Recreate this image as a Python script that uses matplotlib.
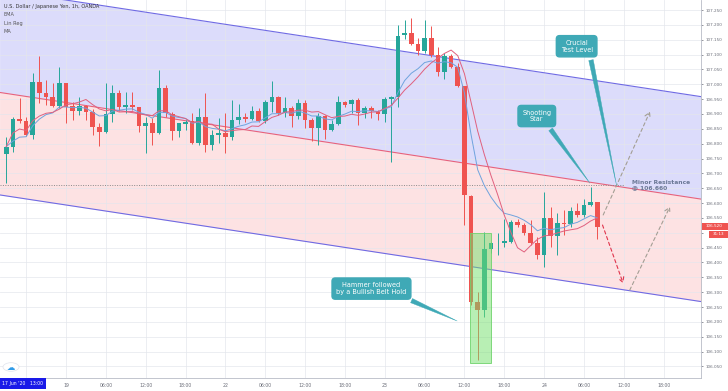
import numpy as np
import pandas as pd
import matplotlib
matplotlib.use("Agg")
import matplotlib.pyplot as plt
from matplotlib.patches import Rectangle, Circle

# hourly candles, bar 0 = 19 Jun 00:00 (weekend closed up like on the chart)
bar_start = -9
opens = [106.765, 106.788, 106.884, 106.877, 106.829, 107.009, 106.972, 106.958, 106.927,
         107.003, 106.927, 106.911, 106.927, 106.908, 106.855, 106.840, 106.900, 106.970,
         106.924, 106.929, 106.922, 106.858, 106.869, 106.835, 106.987, 106.900, 106.844,
         106.866, 106.875, 106.803, 106.889, 106.795, 106.829, 106.837, 106.821, 106.880,
         106.891, 106.884, 106.909, 106.877, 106.940, 106.956, 106.902, 106.920, 106.893,
         106.936, 106.880, 106.853, 106.892, 106.846, 106.866, 106.939, 106.934, 106.947,
         106.904, 106.921, 106.908, 106.899, 106.950, 106.958, 107.165, 107.172, 107.136,
         107.113, 107.156, 107.100, 107.042, 107.095, 107.059, 106.994, 106.624, 106.266,
         106.240, 106.445, 106.465, 106.466, 106.470, 106.537, 106.526, 106.498, 106.467,
         106.425, 106.549, 106.490, 106.534, 106.529, 106.574, 106.560, 106.593, 106.603]
highs = [106.823, 106.890, 106.954, 106.890, 107.038, 107.095, 107.014, 107.004, 107.059,
         107.004, 106.941, 106.958, 106.930, 106.917, 106.870, 107.004, 106.998, 106.981,
         106.975, 106.975, 106.924, 106.891, 106.886, 107.048, 106.998, 106.908, 106.871,
         106.880, 106.904, 106.920, 106.972, 106.846, 106.886, 106.904, 106.947, 106.934,
         106.903, 106.927, 106.920, 106.947, 107.011, 106.960, 106.956, 106.927, 106.949,
         106.947, 106.885, 106.902, 106.897, 106.880, 106.960, 106.945, 106.950, 106.953,
         106.927, 106.927, 106.913, 106.956, 106.961, 107.200, 107.216, 107.222, 107.155,
         107.216, 107.196, 107.126, 107.104, 107.102, 107.073, 106.994, 106.627, 106.302,
         106.504, 106.470, 106.499, 106.546, 106.543, 106.545, 106.533, 106.543, 106.487,
         106.638, 106.588, 106.566, 106.577, 106.588, 106.599, 106.613, 106.654, 106.605]
lows = [106.667, 106.772, 106.870, 106.826, 106.816, 106.938, 106.930, 106.923, 106.920,
        106.870, 106.880, 106.897, 106.880, 106.829, 106.792, 106.836, 106.874, 106.911,
        106.903, 106.913, 106.840, 106.768, 106.795, 106.833, 106.891, 106.812, 106.821,
        106.846, 106.799, 106.795, 106.773, 106.779, 106.802, 106.770, 106.812, 106.866,
        106.874, 106.880, 106.874, 106.871, 106.908, 106.897, 106.889, 106.855, 106.882,
        106.852, 106.810, 106.795, 106.815, 106.844, 106.863, 106.922, 106.902, 106.863,
        106.885, 106.885, 106.880, 106.874, 106.739, 106.924, 107.151, 107.132, 107.099,
        107.104, 107.093, 107.028, 107.017, 107.054, 106.990, 106.526, 106.257, 106.072,
        106.217, 106.431, 106.425, 106.453, 106.467, 106.520, 106.492, 106.459, 106.411,
        106.386, 106.453, 106.425, 106.492, 106.520, 106.554, 106.554, 106.590, 106.478]
closes = [106.790, 106.882, 106.876, 106.829, 107.009, 106.972, 106.958, 106.927, 107.003,
          106.924, 106.911, 106.927, 106.908, 106.855, 106.840, 106.900, 106.970, 106.924,
          106.930, 106.922, 106.859, 106.869, 106.835, 106.987, 106.902, 106.844, 106.869,
          106.873, 106.803, 106.889, 106.795, 106.829, 106.837, 106.821, 106.880, 106.891,
          106.884, 106.909, 106.877, 106.940, 106.956, 106.902, 106.920, 106.893, 106.936,
          106.880, 106.853, 106.892, 106.846, 106.866, 106.939, 106.931, 106.947, 106.904,
          106.921, 106.910, 106.899, 106.950, 106.958, 107.163, 107.172, 107.136, 107.113,
          107.156, 107.100, 107.042, 107.095, 107.059, 106.994, 106.627, 106.268, 106.240,
          106.445, 106.465, 106.467, 106.471, 106.537, 106.526, 106.498, 106.467, 106.425,
          106.549, 106.490, 106.532, 106.529, 106.574, 106.560, 106.593, 106.603, 106.520]

tick_bars = list(range(0, 91, 6))
tick_labels = ['19', '06:00', '12:00', '18:00', '22', '06:00', '12:00', '18:00',
               '23', '06:00', '12:00', '18:00', '24', '06:00', '12:00', '18:00']
price_ticks = np.round(np.arange(106.05, 107.2501, 0.05), 3)

# linear regression channel: mid line at both ends + half width
lr_bars = [-10, 96]
lr_mid = [106.9725, 106.6121]
lr_dev = 0.345

resistance = 106.660
last_price = 106.520
hl_box = [60.8, 64.0, 106.060, 106.500]   # bar from, bar to, low, high

paths_grey = [[(80.9, 106.560), (87.95, 106.908)], [(84.9, 106.307), (90.96, 106.588)]]
path_red = [(80.8, 106.526), (83.9, 106.330)]

callouts = [
    ("Hammer followed\nby a Bullish Belt Hold", (46.0, 106.312), (58.9, 106.203), (0.85, 0.1)),
    ("Shooting\nStar", (70.9, 106.893), (78.9, 106.667), (0.8, 0.0)),
    ("Crucial\nTest Level", (76.9, 107.128), (82.9, 106.661), (0.9, 0.0)),
]

# ---------------------------------------------------------------
bars = np.arange(bar_start, bar_start + len(opens))
o, h, l, c = map(np.array, (opens, highs, lows, closes))

fig = plt.figure(figsize=(7.28, 3.91), dpi=100)
ax = fig.add_axes([0, 13 / 391, 701 / 728, 378 / 391])
ax.set_xlim(-9.94, 95.63)
ax.set_ylim(106.011, 107.2837)

# channel
xs = np.array(lr_bars, dtype=float)
mid = np.array(lr_mid)
ax.fill_between(xs, mid, mid + lr_dev, color='#dcdcfb', lw=0, zorder=0)
ax.fill_between(xs, mid - lr_dev, mid, color='#fde2e3', lw=0, zorder=0)
ax.plot(xs, mid + lr_dev, color='#6f6ae4', lw=0.8, zorder=2)
ax.plot(xs, mid - lr_dev, color='#6f6ae4', lw=0.8, zorder=2)
ax.plot(xs, mid, color='#e8627c', lw=0.8, zorder=2)

# grid
for t in [-6] + tick_bars:
    ax.axvline(t, color='#e4e6ec', lw=0.6, alpha=0.8, zorder=1)
for p in price_ticks:
    ax.axhline(p, color='#e4e6ec', lw=0.6, alpha=0.8, zorder=1)

# candles
up = c >= o
cols = np.where(up, '#26a69a', '#ef5350')
ax.vlines(bars, l, h, colors=cols, lw=0.7, zorder=3)
body = np.maximum(np.abs(c - o), 0.002)
ax.bar(bars, body, bottom=np.minimum(o, c), width=0.7, color=cols, lw=0, zorder=4)

# EMA / MA
s = pd.Series(closes)
ema = s.ewm(span=9, adjust=False).mean()
ma = s.rolling(9, min_periods=1).mean()
ax.plot(bars, ema, color='#6fa3de', lw=0.7, zorder=5)
ax.plot(bars, ma, color='#e0607e', lw=0.7, zorder=5)

# highlight box
x0, x1, y0, y1 = hl_box
ax.add_patch(Rectangle((x0, y0), x1 - x0, y1 - y0, fc=(0.45, 0.88, 0.42, 0.5),
                       ec='#6fd36c', lw=0.6, zorder=6))

# resistance
ax.plot([-10, 84], [resistance, resistance], color='#8a8a8a', lw=0.7,
        ls=(0, (1, 1.5)), zorder=2)
ax.text(85.2, resistance + 0.001, 'Minor Resistance\n@ 106.660', ha='left', va='center',
        fontsize=4.3, fontweight='bold', color='#6b7896', linespacing=1.0, zorder=7)

# projected paths
for (a, b) in paths_grey:
    ax.annotate('', xy=b, xytext=a,
                arrowprops=dict(arrowstyle='->,head_length=0.35,head_width=0.2',
                                color='#a39e94', lw=0.8, ls=(0, (3, 2.5)),
                                shrinkA=0, shrinkB=0), zorder=7)
ax.annotate('', xy=path_red[1], xytext=path_red[0],
            arrowprops=dict(arrowstyle='->,head_length=0.35,head_width=0.2',
                            color='#e0344c', lw=0.8, ls=(0, (3, 2.5)),
                            shrinkA=0, shrinkB=0), zorder=7)

# callouts
teal = '#3fa9b6'
for txt, pos, tip, rel in callouts:
    ax.annotate(txt, xy=tip, xytext=pos, ha='center', va='center', color='white',
                fontsize=4.7, multialignment='center', linespacing=1.15,
                bbox=dict(boxstyle='round,pad=0.65,rounding_size=0.5', fc=teal, ec=teal),
                arrowprops=dict(arrowstyle='wedge,tail_width=0.7,shrink_factor=0.5',
                                fc=teal, ec=teal, lw=0.3, relpos=rel, shrinkB=0),
                zorder=8)

# axes styling
for sp in ['top', 'left']:
    ax.spines[sp].set_visible(False)
for sp in ['right', 'bottom']:
    ax.spines[sp].set_color('#b8bcc6')
    ax.spines[sp].set_linewidth(0.6)
ax.yaxis.tick_right()
ax.set_yticks(price_ticks)
# 106.500 sits under the last-price tags
ax.set_yticklabels(['' if abs(p - 106.5) < 1e-6 else f'{p:.3f}' for p in price_ticks])
ax.tick_params(axis='y', labelsize=3, colors='#6a6d78', length=1.5, width=0.5, pad=1.5)
ax.set_xticks(tick_bars)
ax.set_xticklabels(tick_labels)
ax.tick_params(axis='x', labelsize=3.3, colors='#6a6d78', length=0, pad=3.6)

# header
fig.text(4 / 728, 1 - 6.7 / 391, 'U.S. Dollar / Japanese Yen, 1h, OANDA', fontsize=3.6,
         color='#333333', va='center')
for k, name in enumerate(['EMA', 'Lin Reg', 'MA']):
    fig.text(4 / 728, 1 - (15 + 8.3 * k) / 391, name, fontsize=3.6, color='#555555', va='center')

# crosshair date label
fig.patches.append(Rectangle((0, 2 / 391), 46 / 728, 11 / 391, transform=fig.transFigure,
                             fc='#1a1ae8', ec='none', zorder=10))
fig.text(23 / 728, 7.5 / 391, "17 Jun '20   13:00", fontsize=3.3, color='white',
         ha='center', va='center', zorder=11)

# last price labels
fig.patches.append(Rectangle((701.5 / 728, 161.5 / 391), 26.5 / 728, 6.5 / 391,
                             transform=fig.transFigure, fc='#ef5350', ec='none', zorder=10))
fig.text(714.5 / 728, 164.8 / 391, f'{last_price:.3f}', fontsize=3, color='white',
         ha='center', va='center', zorder=11)
fig.patches.append(Rectangle((709 / 728, 153.5 / 391), 19 / 728, 7 / 391,
                             transform=fig.transFigure, fc='#ef5350', ec='none', zorder=10))
fig.text(718.5 / 728, 157 / 391, '31:13', fontsize=3, color='white',
         ha='center', va='center', zorder=11)

# logo
fig.patches.append(Circle((11 / 728, 24 / 391), 8 / 728, transform=fig.transFigure,
                          fc='white', ec='#e0e3eb', lw=0.5, zorder=10))
fig.text(11 / 728, 24 / 391, '\u2601', fontsize=6, color='#2f9be8', ha='center',
         va='center', zorder=11)

fig.savefig('out.png', dpi=100)
